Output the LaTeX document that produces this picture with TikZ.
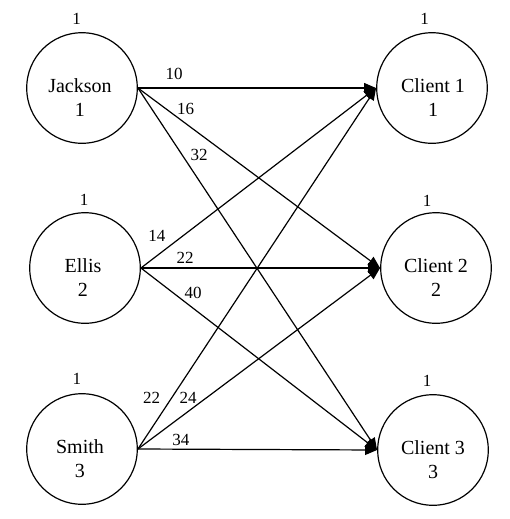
\documentclass[tikz,border=0pt]{standalone}
\usepackage{fontspec}
\setmainfont{Liberation Serif}
\usetikzlibrary{arrows.meta}
\begin{document}
\begin{tikzpicture}[x=0.75pt,y=-0.75pt,
  vert/.style={draw,circle,line width=0.9pt,minimum size=83pt,inner sep=0pt},
  vtext/.style={align=center,font=\fontsize{15pt}{18pt}\selectfont,inner sep=0pt},
  wlab/.style={font=\fontsize{12.75pt}{14pt}\selectfont,inner sep=0pt},
  flow/.style={line width=0.9pt,-{Triangle[length=9pt,width=7.5pt]}}]
\useasboundingbox (0,0) rectangle (510,519);
% vertices
\node[vert] (J) at (82,88) {};
\node[vert] (E) at (85,268) {};
\node[vert] (S) at (82,449) {};
\node[vert] (C1) at (432,88) {};
\node[vert] (C2) at (436,268) {};
\node[vert] (C3) at (433,450) {};
% texts
\node[vtext] (Jt) at (80,98) {Jackson\\1};
\node[vtext] (Et) at (83,278) {Ellis\\2};
\node[vtext] (St) at (80,459) {Smith\\3};
\node[vtext] (C1t) at (433,98) {Client 1\\1};
\node[vtext] (C2t) at (436,278) {Client 2\\2};
\node[vtext] (C3t) at (433,460) {Client 3\\3};
% supply/demand labels
\node[wlab] (Js) at (76.5,19) {1};
\node[wlab] (Es) at (84,199.5) {1};
\node[wlab] (Ss) at (77,379) {1};
\node[wlab] (C1s) at (424.5,19) {1};
\node[wlab] (C2s) at (427,201) {1};
\node[wlab] (C3s) at (427,381) {1};
% edges
\draw[flow] (J.east) -- (C1.west);
\draw[flow] (J.east) -- (C2.west);
\draw[flow] (J.east) -- (C3.west);
\draw[flow] (E.east) -- (C1.west);
\draw[flow] (E.east) -- (C2.west);
\draw[flow] (E.east) -- (C3.west);
\draw[flow] (S.east) -- (C1.west);
\draw[flow] (S.east) -- (C2.west);
\draw[flow] (S.east) -- (C3.west);
% cost labels
\node[wlab] (l10) at (174,74) {10};
\node[wlab] (l16) at (185.5,109) {16};
\node[wlab] (l32) at (199,155) {32};
\node[wlab] (l14) at (157,236) {14};
\node[wlab] (l22a) at (185,258) {22};
\node[wlab] (l40) at (193,293) {40};
\node[wlab] (l22b) at (151.5,398) {22};
\node[wlab] (l24) at (188,398) {24};
\node[wlab] (l34) at (181,440) {34};
\end{tikzpicture}
\end{document}
